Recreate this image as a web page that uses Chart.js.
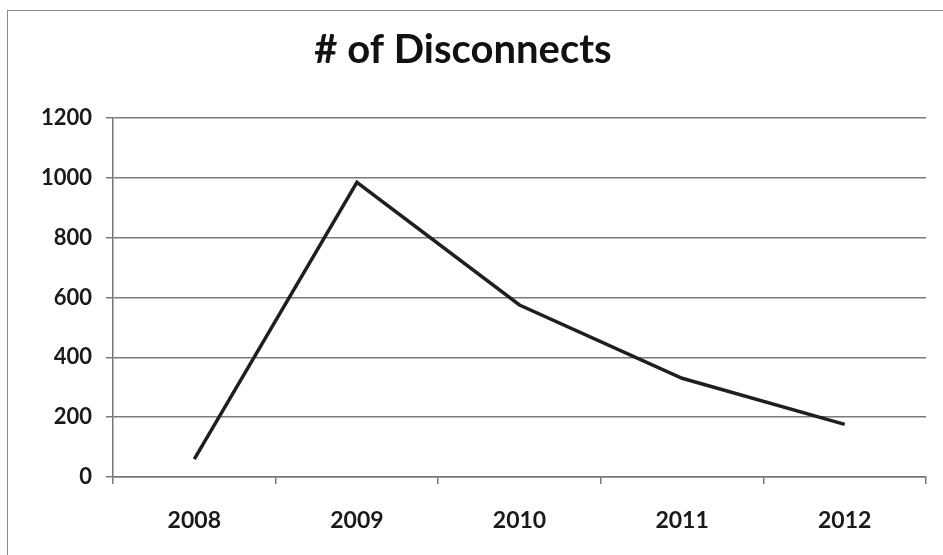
<!DOCTYPE html>
<html>
<head>
<meta charset="utf-8">
<script src="https://cdn.jsdelivr.net/npm/chart.js@4/dist/chart.umd.min.js"></script>
<style>
    body { margin: 0; background: #fff; overflow: hidden; }
    #frame { position: absolute; left: 7px; top: 10px; width: 960px; height: 570px; border: 1px solid #8a8a8a; }
    #wrap { position: absolute; left: 0; top: 0; width: 943px; height: 555px; }
</style>
</head>
<body>
<div id="frame"></div>
<div id="wrap"><canvas id="line-chart" width="943" height="555"></canvas></div>
<script>
    var years = ["2008", "2009", "2010", "2011", "2012"];
    var disconnects = [60, 985, 575, 330, 176];
    var yTicks = [0, 200, 400, 600, 800, 1000, 1200];

    Chart.defaults.font.family = "Lato";
    Chart.defaults.color = "#1a1a1a";

    new Chart(document.getElementById("line-chart"), {
        type: 'line',
        data: {
            labels: years,
            datasets: [
                {
                    label: '# of Disconnects',
                    data: disconnects,
                    borderColor: "#1f1f1f",
                    borderWidth: 3.5,
                    pointRadius: 0,
                    tension: 0,
                    fill: false
                }
            ]
        },
        options: {
            responsive: false,
            animation: false,
            layout: { padding: { left: 0, right: 17, top: 0, bottom: 0 } },
            plugins: {
                legend: { display: false },
                tooltip: { enabled: false },
                title: {
                    display: true,
                    text: '# of Disconnects',
                    color: "#111",
                    font: { size: 40, weight: 'bold' },
                    padding: { top: 26, bottom: 44 }
                }
            },
            scales: {
                x: {
                    offset: true,
                    grid: { offset: true, drawOnChartArea: false, color: "#777", lineWidth: 1.5, tickLength: 7 },
                    border: { color: "#777", width: 1.5 },
                    ticks: { font: { size: 23, weight: 'bold' }, padding: 23, maxRotation: 0 },
                    afterFit: function (axis) { axis.height = 78; }
                },
                y: {
                    min: 0,
                    max: 1200,
                    afterBuildTicks: function (axis) {
                        axis.ticks = yTicks.map(function (v) { return { value: v }; });
                    },
                    grid: { color: "#7a7a7a", lineWidth: 1.5, tickLength: 7 },
                    border: { color: "#777", width: 1.5 },
                    ticks: {
                        font: { size: 22, weight: 'bold' },
                        padding: 14,
                        callback: function (value) { return String(value); }
                    },
                    afterFit: function (axis) { axis.width = 113; }
                }
            }
        }
    });
</script>
</body>
</html>
